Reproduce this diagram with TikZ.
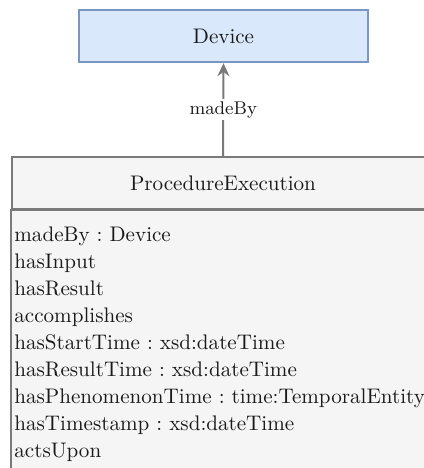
\documentclass[tikz,border=0pt]{standalone}
\usetikzlibrary{arrows.meta}
\definecolor{devfill}{HTML}{DAE8FC}
\definecolor{devline}{HTML}{7C96C2}
\definecolor{pefill}{HTML}{F5F5F5}
\definecolor{peline}{HTML}{7A7A7A}
\definecolor{txt}{HTML}{1A1A1A}
\frenchspacing
\tikzset{
  umlfont/.style={font=\fontsize{10.55pt}{13.5pt}\selectfont, text=txt},
  devbox/.style={draw=devline, fill=devfill, line width=1.2pt, umlfont,
    minimum width=144.5pt, minimum height=26pt, inner sep=0pt},
  pebox/.style={draw=peline, fill=pefill, line width=1pt},
  pehead/.style={pebox, umlfont, minimum width=211pt, minimum height=26pt, inner sep=0pt},
  assoc/.style={draw=peline, line width=1pt, -{Stealth[length=6.5pt,width=6pt]}},
}
\begin{document}
\begin{tikzpicture}[x=0.5pt,y=-0.5pt]
  \useasboundingbox (0,0) rectangle (424,468);
  \clip (0,0) rectangle (424,468);
  % class boxes
  \node[devbox] (device) at (223.5,36) {Device};
  \node[pehead] (pe) at (223,183) {ProcedureExecution};
  \draw[pebox] (pe.south west) rectangle ++(422,290);
  % attributes
  \foreach \attr [count=\i from 0] in {madeBy : Device, hasInput, hasResult, accomplishes,
      hasStartTime : xsd:dateTime, hasResultTime : xsd:dateTime,
      hasPhenomenonTime : time:TemporalEntity, hasTimestamp : xsd:dateTime, actsUpon}
    \node[umlfont, anchor=base west, inner sep=0pt] (attr\i) at (14,241+27*\i) {\attr};
  % association
  \draw[assoc] (pe.north) -- node[fill=white, text=txt, inner sep=1pt,
    font=\fontsize{9.2pt}{11pt}\selectfont] (madeby) {madeBy} (device.south);
\end{tikzpicture}
\end{document}
